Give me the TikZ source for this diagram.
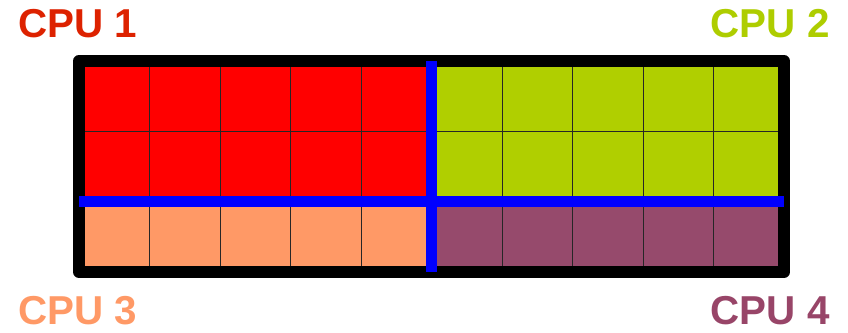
\documentclass[tikz,border=0pt]{standalone}
\usepackage{fontspec}
\setmainfont{Liberation Sans}
\usetikzlibrary{positioning}

\definecolor{cpured}{HTML}{FF0000}
\definecolor{cpugreen}{HTML}{B0CF00}
\definecolor{cpuorange}{HTML}{FF9966}
\definecolor{cpupurple}{HTML}{964A6C}
\definecolor{labred}{HTML}{DD2200}
\definecolor{labgreen}{HTML}{AECD00}
\definecolor{labpurple}{HTML}{984568}

\begin{document}
\begin{tikzpicture}[x=0.025cm, y=-0.025cm,
    cpulabel/.style={inner sep=0pt, font=\fontsize{28.7}{31}\selectfont\bfseries},
    cellline/.style={line width=0.6pt, black!85},
    border/.style={line width=0.3cm, line join=round, black},
    split/.style={line width=0.275cm, blue}]
    \useasboundingbox (0,0) rectangle (848,333);

    % quadrants
    \fill[cpured] (79,61) rectangle (431.5,201.7);
    \fill[cpugreen] (431.5,61) rectangle (784,201.7);
    \fill[cpuorange] (79,201.7) rectangle (431.5,272);
    \fill[cpupurple] (431.5,201.7) rectangle (784,272);

    % cells
    \foreach \i in {1,...,9}
        \draw[cellline] ({79+70.5*\i},61) -- ({79+70.5*\i},272);
    \foreach \j in {1,2}
        \draw[cellline] (79,{61+70.33*\j}) -- (784,{61+70.33*\j});

    \draw[border] (79,61) rectangle (784,272);

    % domain split
    \coordinate (vtop) at (431.5,61);
    \coordinate (vbot) at (431.5,272);
    \coordinate (hleft) at (79,201.7);
    \coordinate (hright) at (784,201.7);
    \draw[split] (vtop) -- (vbot);
    \draw[split] (hleft) -- (hright);

    \node[cpulabel, labred, anchor=base west] (cpu1) at (18,37.5) {CPU 1};
    \node[cpulabel, labgreen, anchor=base east] (cpu2) at (830,37.5) {CPU 2};
    \node[cpulabel, cpuorange, anchor=base west] (cpu3) at (18,325) {CPU 3};
    \node[cpulabel, labpurple, anchor=base east] (cpu4) at (830,325) {CPU 4};
\end{tikzpicture}
\end{document}
